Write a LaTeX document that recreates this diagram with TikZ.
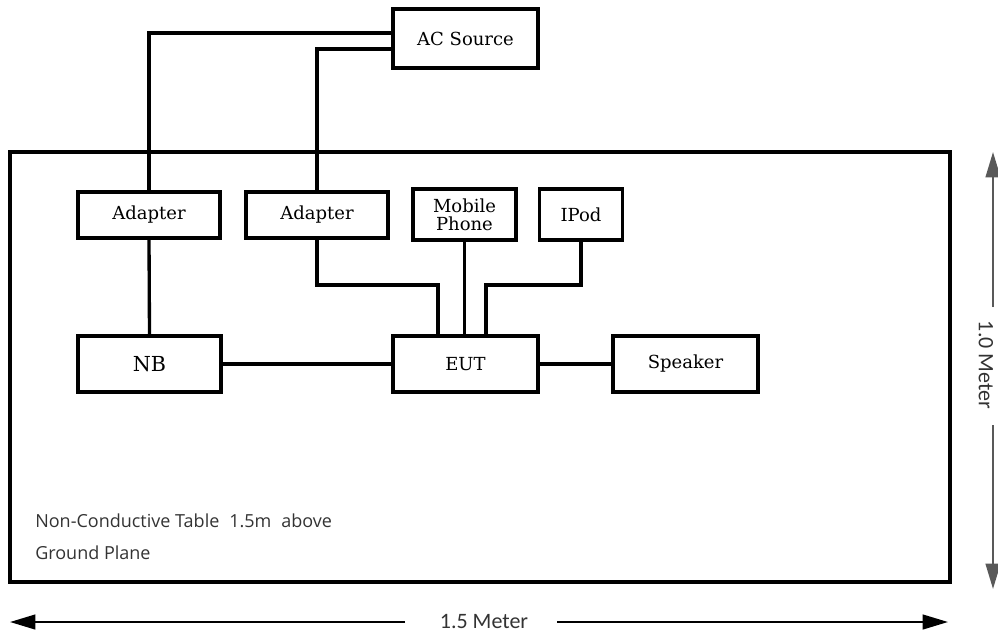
\documentclass[tikz,border=0pt]{standalone}
\usepackage{fontspec}
\setmainfont{DejaVu Serif}
\newfontfamily\opensans{Open Sans}
\newfontfamily\carlito{Carlito}
\usetikzlibrary{arrows.meta,calc}
\begin{document}
\begin{tikzpicture}[x=0.75pt,y=-0.75pt,
  box/.style={draw, line width=2.5pt, fill=white, inner sep=0pt, align=center,
    font=\fontsize{13.5}{15}\selectfont},
  wire/.style={line width=2.5pt},
  dimline/.style={line width=1.7pt, -{Triangle[length=19pt,width=11pt]}},
  dimtext/.style={text=black!80, font=\carlito\fontsize{16.5}{18}\selectfont, inner sep=0pt},
  note/.style={text=black!80, font=\opensans\fontsize{13.5}{15}\selectfont, anchor=west, inner sep=0pt}]
\useasboundingbox (0,0) rectangle (998,632);

% table
\node[draw, line width=2.5pt, minimum width=705pt, minimum height=322.5pt, inner sep=0pt] (table) at (480,367) {};

% boxes
\node[box, minimum width=108.75pt, minimum height=44.25pt] (ac) at (465.5,38.5) {AC Source};
\node[box, minimum width=106.5pt, minimum height=34.5pt] (ad1) at (149,215) {Adapter};
\node[box, minimum width=106.5pt, minimum height=34.5pt] (ad2) at (317,215) {Adapter};
\node[box, minimum width=77.25pt, minimum height=38.25pt] (mob) at (464.5,214.5) {Mobile\\[-1.5pt]Phone};
\node[box, minimum width=62.25pt, minimum height=38.25pt] (ipod) at (581,214.5) {IPod};
\node[box, minimum width=107.25pt, minimum height=42pt, font=\fontsize{15.5}{18}\selectfont] (nb) at (149.5,364) {NB};
\node[box, minimum width=108.75pt, minimum height=42pt] (eut) at (465.5,364) {EUT};
\node[box, minimum width=108.75pt, minimum height=42pt] (spk) at (685.5,364) {Speaker};

% helper coordinates
\coordinate (ya) at (0,33);
\coordinate (yb) at (0,49);
\coordinate (yc) at (0,285);
\coordinate (ea) at ($(eut.north)+(-27.5,0)$);
\coordinate (ec) at ($(eut.north)+(20.5,0)$);

% connectors
\draw[wire] (ac.west |- ya) -| (ad1.north);
\draw[wire] (ac.west |- yb) -| (ad2.north);
\draw[wire] (ad1.south) -- (nb.north);
\draw[wire] (ad2.south) -- (ad2.south |- yc) -| (ea);
\draw[wire] (mob.south) -- (mob.south |- eut.north);
\draw[wire] (ipod.south) -- (ipod.south |- yc) -| (ec);
\draw[wire] (nb.east) -- (eut.west);
\draw[wire] (eut.east) -- (spk.west);

% notes
\node[note] (n1) at (35,521) {Non-Conductive Table\hspace{0.55em}1.5m\hspace{0.55em}above};
\node[note] (n2) at (35,553) {Ground Plane};

% horizontal dimension
\node[dimtext] (hlab) at (484,621) {1.5 Meter};
\coordinate (hl0) at (405,622);
\coordinate (hl1) at (10,622);
\coordinate (hr0) at (557,622);
\coordinate (hr1) at (948,622);
\draw[dimline] (hl0) -- (hl1);
\draw[dimline] (hr0) -- (hr1);

% vertical dimension
\node[dimtext, rotate=-90] (vlab) at (986,365) {1.0 Meter};
\coordinate (vt0) at (993,307);
\coordinate (vt1) at (993,152);
\coordinate (vb0) at (993,425);
\coordinate (vb1) at (993,589);
\draw[dimline, draw=black!65, fill=black] (vt0) -- (vt1);
\draw[dimline, draw=black!65, fill=black] (vb0) -- (vb1);
\end{tikzpicture}
\end{document}
